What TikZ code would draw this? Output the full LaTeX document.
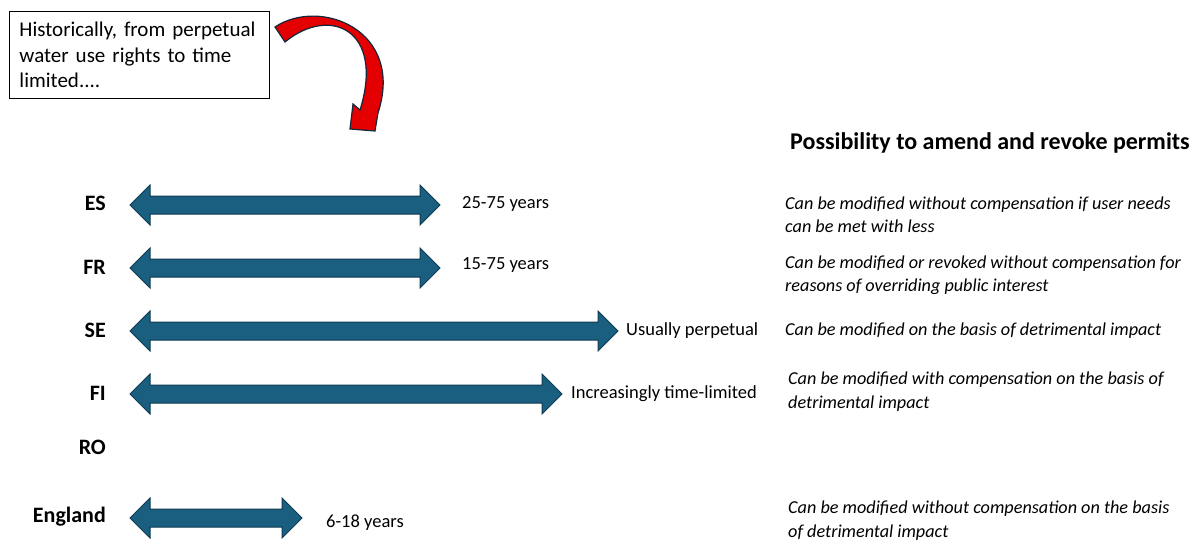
\documentclass[tikz,border=0pt]{standalone}
\usepackage{fontspec}
\setmainfont{Carlito}
\frenchspacing
\definecolor{arrowblue}{RGB}{26,94,128}
\definecolor{arrowedge}{RGB}{14,58,82}
\definecolor{curvered}{RGB}{228,0,0}
\definecolor{curveedge}{RGB}{20,40,60}
\tikzset{
  blockarrow/.style={fill=arrowblue, draw=arrowedge, line width=1pt, line join=miter},
  redarrow/.style={fill=curvered, draw=curveedge, line width=1.2pt, line join=miter},
  country/.style={anchor=base east, inner sep=0pt, font=\bfseries\fontsize{22}{26}\selectfont},
  duration/.style={anchor=base west, inner sep=0pt, font=\fontsize{18.5}{22}\selectfont},
  remark/.style={anchor=base west, inner sep=0pt, align=left, font=\itshape\fontsize{18.2}{23.5}\selectfont},
  header/.style={anchor=base west, inner sep=0pt, font=\bfseries\fontsize{24}{28}\selectfont},
  histbox/.style={draw=black, line width=1pt, anchor=north west, minimum width=260pt, minimum height=87pt,
    text width=240pt, align=left, inner xsep=10pt, inner ysep=0pt, font=\fontsize{21}{25.5}\selectfont}
}
% #1 left tip x, #2 right tip x, #3 centre y
\newcommand{\dblblockarrow}[3]{%
  \path[blockarrow] (#1,#3) -- (#1+20,#3-20) -- (#1+20,#3-9) -- (#2-20,#3-9) -- (#2-20,#3-20)
    -- (#2,#3) -- (#2-20,#3+20) -- (#2-20,#3+9) -- (#1+20,#3+9) -- (#1+20,#3+20) -- cycle;}
\begin{document}
\begin{tikzpicture}[x=1pt,y=-1pt]
\useasboundingbox (0,0) rectangle (1198,540);

% history box and curved arrow
\node[histbox] (hist) at (9,11) {Historically, from perpetual\\water use rights to time\\limited....};
\path[redarrow] (275,27) .. controls (320,-3) and (405,30) .. (378,113) -- (375,131) -- (350,129)
  -- (353,104) -- (360,110) .. controls (385,30) and (330,5) .. (285,42) -- cycle;

% header
\node[header] (head) at (790,150) {Possibility to amend and revoke permits};

% countries
\node[country] (es) at (106,210) {ES};
\node[country] (fr) at (106,274) {FR};
\node[country] (se) at (106,337) {SE};
\node[country] (fi) at (106,400) {FI};
\node[country] (ro) at (106,454) {RO};
\node[country] (en) at (106,522) {England};

% arrows
\dblblockarrow{130}{440}{205}
\dblblockarrow{130}{440}{268}
\dblblockarrow{130}{618}{331}
\dblblockarrow{130}{562}{394}
\dblblockarrow{130}{302}{518}

% durations
\node[duration] (esd) at (462,208) {25-75 years};
\node[duration] (frd) at (462,269) {15-75 years};
\node[duration] (sed) at (626,335) {Usually perpetual};
\node[duration] (fid) at (571,398) {Increasingly time-limited};
\node[duration] (end) at (326,527) {6-18 years};

% remarks (anchor = baseline of the last line)
\node[remark] (esr) at (785,232.5) {Can be modified without compensation if user needs\\can be met with less};
\node[remark] (frr) at (785,291.5) {Can be modified or revoked without compensation for\\reasons of overriding public interest};
\node[remark] (ser) at (785,335) {Can be modified on the basis of detrimental impact};
\node[remark] (fir) at (788,408) {Can be modified with compensation on the basis of\\detrimental impact};
\node[remark] (enr) at (788,537) {Can be modified without compensation on the basis\\of detrimental impact};
\end{tikzpicture}
\end{document}
